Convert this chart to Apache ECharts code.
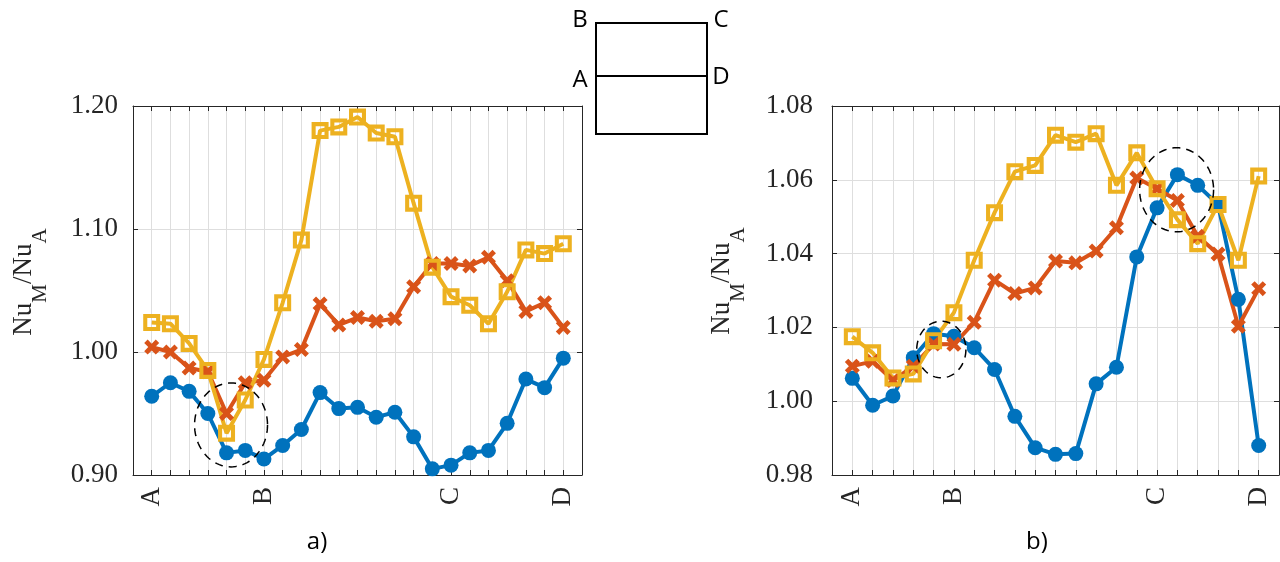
<!DOCTYPE html>
<html>
<head>
<meta charset="utf-8">
<script src="https://cdn.jsdelivr.net/npm/echarts@6.0.0/dist/echarts.min.js"></script>
<style>
html,body{margin:0;padding:0;background:#fff;}
#chart{width:1280px;height:562px;}
</style>
</head>
<body>
<div id="chart"></div>
<script>
// ---------- data ----------
const tickNames = ['A', 'B', 'C', 'D'];
const leftTickPos = [0, 6, 16, 22];
const rightTickPos = [0, 5, 15, 20];

const leftBlue = [0.964, 0.975, 0.968, 0.950, 0.918, 0.920, 0.913, 0.924, 0.937, 0.967, 0.954, 0.955, 0.947, 0.951, 0.931, 0.905, 0.908, 0.918, 0.920, 0.942, 0.978, 0.971, 0.995];
const leftOrange = [1.004, 1.000, 0.987, 0.984, 0.950, 0.975, 0.977, 0.996, 1.002, 1.039, 1.022, 1.028, 1.025, 1.027, 1.053, 1.072, 1.072, 1.070, 1.077, 1.058, 1.033, 1.040, 1.020];
const leftYellow = [1.024, 1.023, 1.007, 0.985, 0.934, 0.961, 0.994, 1.040, 1.091, 1.180, 1.183, 1.191, 1.178, 1.175, 1.121, 1.069, 1.045, 1.038, 1.023, 1.049, 1.083, 1.080, 1.088];

const rightBlue = [1.0062, 0.9989, 1.0014, 1.0118, 1.0183, 1.0176, 1.0145, 1.0086, 0.9959, 0.9874, 0.9856, 0.9858, 1.0047, 1.0092, 1.0391, 1.0524, 1.0614, 1.0585, 1.0533, 1.0276, 0.9880];
const rightOrange = [1.0095, 1.0108, 1.0056, 1.0095, 1.0155, 1.0154, 1.0214, 1.0328, 1.0292, 1.0307, 1.0380, 1.0375, 1.0407, 1.0470, 1.0605, 1.0576, 1.0544, 1.0447, 1.0399, 1.0203, 1.0305];
const rightYellow = [1.0175, 1.0131, 1.0063, 1.0074, 1.0164, 1.0240, 1.0382, 1.0511, 1.0622, 1.0639, 1.0721, 1.0702, 1.0725, 1.0585, 1.0673, 1.0576, 1.0492, 1.0427, 1.0533, 1.0382, 1.0610];

// dashed ellipse annotations: [centre x, centre y, radius x, radius y] in data units
const leftEllipses = [[4.24, 0.9407, 1.95, 0.0341]];
const rightEllipses = [[4.38, 1.0140, 1.21, 0.00767], [15.96, 1.0573, 1.82, 0.01138]];

const leftYTicks = { min: 0.90, max: 1.20, interval: 0.10 };
const rightYTicks = { min: 0.98, max: 1.08, interval: 0.02 };

// ---------- styling ----------
const C_BLUE = '#0072BD', C_ORANGE = '#D95319', C_YELLOW = '#EDB120';
const SERIF = '"Liberation Serif", "DejaVu Serif", serif';
const SANS = '"Open Sans", "DejaVu Sans", sans-serif';
const AXIS_COLOR = '#262626';
const GRID_COLOR = '#dedede';
const X_SYMBOL = 'path://M0 2.3L2.3 0L5 2.7L7.7 0L10 2.3L7.3 5L10 7.7L7.7 10L5 7.3L2.3 10L0 7.7L2.7 5Z';
const SQ_SYMBOL = 'path://M0 0H10V10H0Z M2.4 2.4V7.6H7.6V2.4Z';

function toPairs(arr) { return arr.map((v, i) => [i, v]); }
function labelMap(pos) { const m = {}; pos.forEach((p, i) => { m[p] = tickNames[i]; }); return m; }
const leftMap = labelMap(leftTickPos);
const rightMap = labelMap(rightTickPos);

function xAxisBottom(gridIndex, max, map) {
  return {
    type: 'value', gridIndex, position: 'bottom', min: -1, max: max, interval: 1,
    axisLine: { show: true, onZero: false, lineStyle: { color: AXIS_COLOR, width: 1 } },
    axisTick: { show: true, inside: true, length: 5, lineStyle: { color: AXIS_COLOR } },
    splitLine: { show: true, lineStyle: { color: GRID_COLOR, width: 1 } },
    axisLabel: {
      show: true, rotate: 90, margin: 12, fontFamily: SERIF, fontSize: 27, color: '#262626',
      formatter: v => (map[Math.round(v)] !== undefined && Math.abs(v - Math.round(v)) < 1e-6) ? map[Math.round(v)] : '',
      showMinLabel: true, showMaxLabel: true, hideOverlap: false
    }
  };
}
function xAxisTop(gridIndex, max) {
  return {
    type: 'value', gridIndex, position: 'top', min: -1, max: max, interval: 1,
    axisLine: { show: true, onZero: false, lineStyle: { color: AXIS_COLOR, width: 1 } },
    axisTick: { show: true, inside: true, length: 5, lineStyle: { color: AXIS_COLOR } },
    splitLine: { show: false }, axisLabel: { show: false }
  };
}
function yAxisLeft(gridIndex, t, margin) {
  return {
    type: 'value', gridIndex, position: 'left', min: t.min, max: t.max, interval: t.interval,
    axisLine: { show: true, onZero: false, lineStyle: { color: AXIS_COLOR, width: 1 } },
    axisTick: { show: true, inside: true, length: 5, lineStyle: { color: AXIS_COLOR } },
    splitLine: { show: true, lineStyle: { color: GRID_COLOR, width: 1 } },
    axisLabel: { show: true, margin: margin, fontFamily: SERIF, fontSize: 27, color: '#262626',
      formatter: v => v.toFixed(2), showMinLabel: true, showMaxLabel: true, padding: [8, 0, 0, 0] }
  };
}
function yAxisRight(gridIndex, t) {
  return {
    type: 'value', gridIndex, position: 'right', min: t.min, max: t.max, interval: t.interval,
    axisLine: { show: true, onZero: false, lineStyle: { color: AXIS_COLOR, width: 1 } },
    axisTick: { show: true, inside: true, length: 5, lineStyle: { color: AXIS_COLOR } },
    splitLine: { show: false }, axisLabel: { show: false }
  };
}

function lineSeries(xi, yi, data, color, symbol, size) {
  return {
    type: 'line', xAxisIndex: xi, yAxisIndex: yi, data: toPairs(data),
    symbol: symbol, symbolSize: size, showSymbol: true, showAllSymbol: true,
    lineStyle: { color: color, width: 4 },
    itemStyle: { color: color, borderWidth: 0 },
    emphasis: { disabled: true }, silent: true, clip: false
  };
}

function ellipseSeries(xi, yi, data) {
  return {
    type: 'custom', xAxisIndex: xi, yAxisIndex: yi, data: data, silent: true, clip: false, z: 10,
    renderItem: function (params, api) {
      const c = api.coord([api.value(0), api.value(1)]);
      const s = api.size([api.value(2), api.value(3)]);
      const pts = [];
      for (let k = 0; k <= 96; k++) {
        const a = k / 96 * Math.PI * 2;
        pts.push([c[0] + s[0] * Math.cos(a), c[1] + s[1] * Math.sin(a)]);
      }
      return { type: 'polyline', shape: { points: pts },
        style: { stroke: '#000', lineWidth: 1.5, fill: null, lineDash: [8, 6] } };
    }
  };
}

// axis title "Nu_M/Nu_A" built from pieces inside a rotated group
const measureCtx = document.createElement('canvas').getContext('2d');
function textWidth(txt, size) {
  measureCtx.font = size + 'px ' + SERIF;
  return measureCtx.measureText(txt).width;
}
function axisTitle(x, y) {
  const NS = 27, SS = 21, SUB = 16;
  const parts = [['Nu', NS, 0], ['M', SS, SUB], ['/Nu', NS, 0], ['A', SS, SUB]];
  const widths = parts.map(p => textWidth(p[0], p[1]));
  const total = widths.reduce((a, b) => a + b, 0);
  let cur = -total / 2;
  const children = parts.map((p, i) => {
    const el = { type: 'text', x: cur, y: p[2], silent: true,
      style: { text: p[0], fontFamily: SERIF, fontSize: p[1], fill: '#262626', align: 'left', verticalAlign: 'middle' } };
    cur += widths[i];
    return el;
  });
  return { type: 'group', x: x, y: y, rotation: Math.PI / 2, z: 20, silent: true, children: children };
}
function sansText(txt, x, y, size) {
  return { type: 'text', x: x, y: y, silent: true, z: 20,
    style: { text: txt, fontFamily: SANS, fontSize: size, fill: '#000', align: 'center', verticalAlign: 'middle' } };
}

const chart = echarts.init(document.getElementById('chart'), null, { renderer: 'canvas' });
chart.setOption({
  animation: false,
  backgroundColor: '#fff',
  grid: [
    { left: 133, top: 106, width: 449, height: 369, containLabel: false },
    { left: 832, top: 106, width: 447, height: 369, containLabel: false }
  ],
  xAxis: [xAxisBottom(0, 23, leftMap), xAxisTop(0, 23), xAxisBottom(1, 21, rightMap), xAxisTop(1, 21)],
  yAxis: [yAxisLeft(0, leftYTicks, 15), yAxisRight(0, leftYTicks), yAxisLeft(1, rightYTicks, 19), yAxisRight(1, rightYTicks)],
  series: [
    lineSeries(0, 0, leftBlue, C_BLUE, 'circle', 15),
    lineSeries(0, 0, leftOrange, C_ORANGE, X_SYMBOL, 15),
    lineSeries(0, 0, leftYellow, C_YELLOW, SQ_SYMBOL, 17),
    ellipseSeries(0, 0, leftEllipses),
    lineSeries(2, 2, rightBlue, C_BLUE, 'circle', 15),
    lineSeries(2, 2, rightOrange, C_ORANGE, X_SYMBOL, 15),
    lineSeries(2, 2, rightYellow, C_YELLOW, SQ_SYMBOL, 17),
    ellipseSeries(2, 2, rightEllipses)
  ],
  graphic: [
    axisTitle(24, 282),
    axisTitle(722, 281),
    { type: 'rect', silent: true, shape: { x: 596, y: 23, width: 111, height: 111 },
      style: { fill: null, stroke: '#000', lineWidth: 2 } },
    { type: 'line', silent: true, shape: { x1: 596, y1: 76, x2: 707, y2: 76 },
      style: { stroke: '#000', lineWidth: 2 } },
    sansText('B', 580, 20, 24),
    sansText('C', 721, 20, 24),
    sansText('A', 580, 80, 24),
    sansText('D', 721, 77, 24),
    sansText('a)', 317, 542, 24),
    sansText('b)', 1037, 542, 24)
  ]
});
</script>
</body>
</html>
